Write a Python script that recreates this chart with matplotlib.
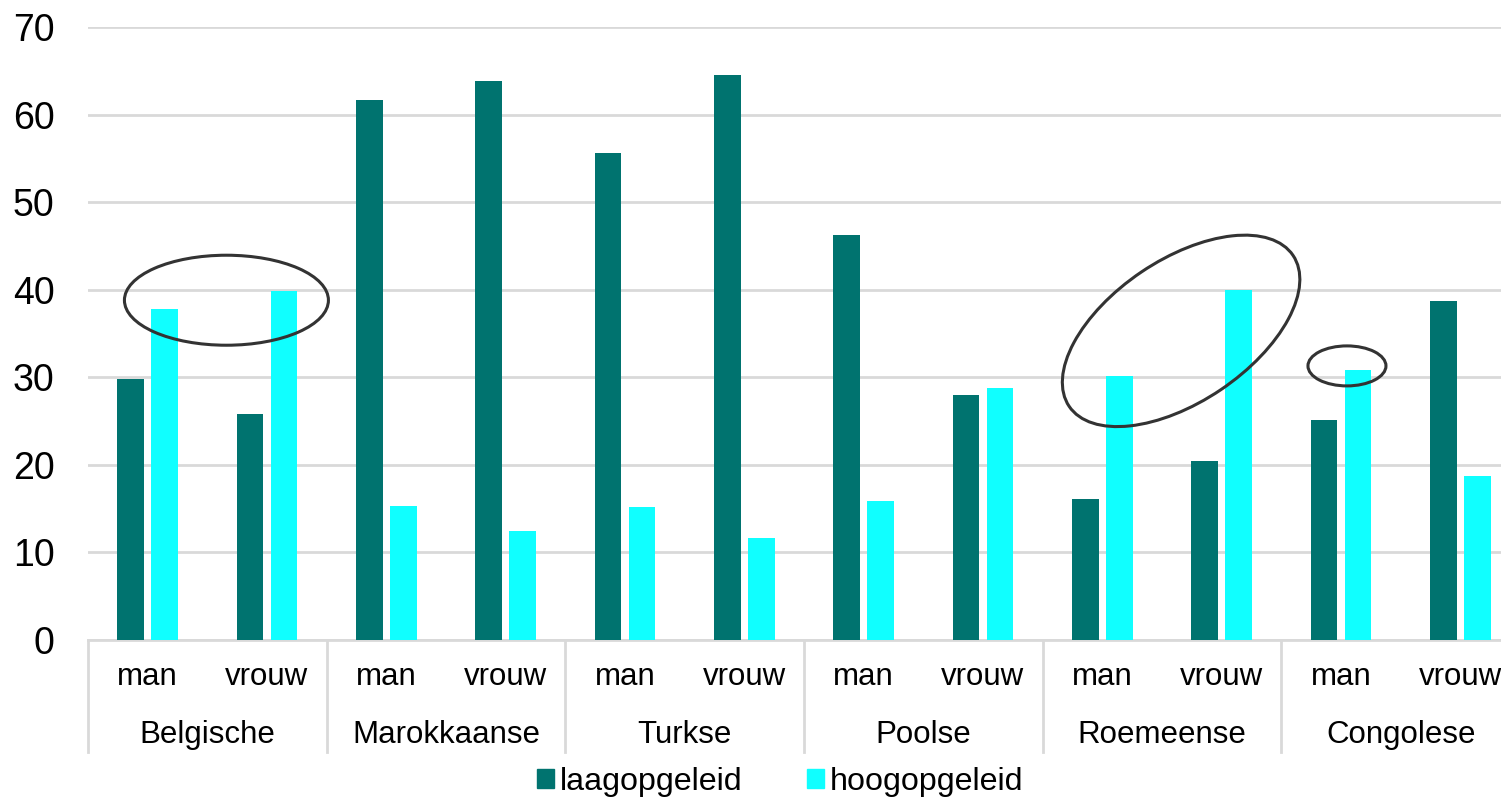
import matplotlib
matplotlib.use('Agg')
from matplotlib import pyplot as plt
from matplotlib import transforms
from matplotlib.patches import Ellipse, Patch
import numpy as np

plt.rcParams['font.family'] = ['Liberation Sans', 'DejaVu Sans']

groups = ['Belgische', 'Marokkaanse', 'Turkse', 'Poolse', 'Roemeense', 'Congolese']
sexes = ['man', 'vrouw']
laag = [29.8, 25.8, 61.7, 63.8, 55.6, 64.5, 46.3, 28.0, 16.1, 20.4, 25.1, 38.7]
hoog = [37.8, 39.9, 15.3, 12.4, 15.2, 11.7, 15.9, 28.8, 30.2, 40.0, 30.8, 18.7]
series_names = ['laagopgeleid', 'hoogopgeleid']

DARK = '#00736f'
LIGHT = '#10ffff'
GRID = '#d9d9d9'

fig = plt.figure(figsize=(15.01, 8.01), dpi=100)
# the plot area runs a bit past the right edge, like the cropped original
ax = fig.add_axes([88 / 1501, 161 / 801, 1432 / 1501, 613 / 801])

x = np.arange(len(laag))
bw = 0.225
ax.bar(x - 0.142, laag, bw, color=DARK, zorder=3)
ax.bar(x + 0.142, hoog, bw, color=LIGHT, zorder=3)

ax.set_xlim(-0.5, len(laag) - 0.5)
ax.set_ylim(0, 70)
ax.set_yticks(range(0, 71, 10))
ax.tick_params(axis='y', length=0, labelsize=27, pad=24)
ax.set_xticks([])
ax.yaxis.grid(True, color=GRID, linewidth=2, zorder=0)
for s in ['top', 'right', 'left']:
    ax.spines[s].set_visible(False)
ax.spines['bottom'].set_color(GRID)
ax.spines['bottom'].set_linewidth(2)

# two-level category axis
tr = transforms.blended_transform_factory(ax.transData, ax.transAxes)
for i in range(len(laag)):
    ax.text(i, -0.060, sexes[i % 2], transform=tr, ha='center', va='center',
            fontsize=22.5, clip_on=False)
for g, name in enumerate(groups):
    ax.text(2 * g + 0.5, -0.155, name, transform=tr, ha='center', va='center',
            fontsize=22.5, clip_on=False)
for b in np.arange(-0.5, len(laag), 2):
    ax.plot([b, b], [0, -0.183], transform=tr, color=GRID, linewidth=2,
            clip_on=False)


def ring(xd, yd, w, h, angle=0):
    t = transforms.Affine2D() + transforms.ScaledTranslation(xd, yd, ax.transData)
    e = Ellipse((0, 0), w, h, angle=angle, transform=t, fill=False,
                edgecolor='#333333', linewidth=2.2, zorder=5, clip_on=False)
    ax.add_patch(e)


ring(0.66, 38.8, 204, 90)
ring(8.66, 35.3, 270, 142, angle=34)
ring(10.05, 31.3, 78, 40)

handles = [Patch(color=DARK), Patch(color=LIGHT)]
fig.legend(handles, series_names, loc='center', bbox_to_anchor=(780 / 1501, 0.024),
           ncol=2, frameon=False, fontsize=23.2, handlelength=0.53,
           handleheight=0.53, handletextpad=0.18, columnspacing=2.0,
           borderpad=0)

fig.savefig('out.png', dpi=100)
